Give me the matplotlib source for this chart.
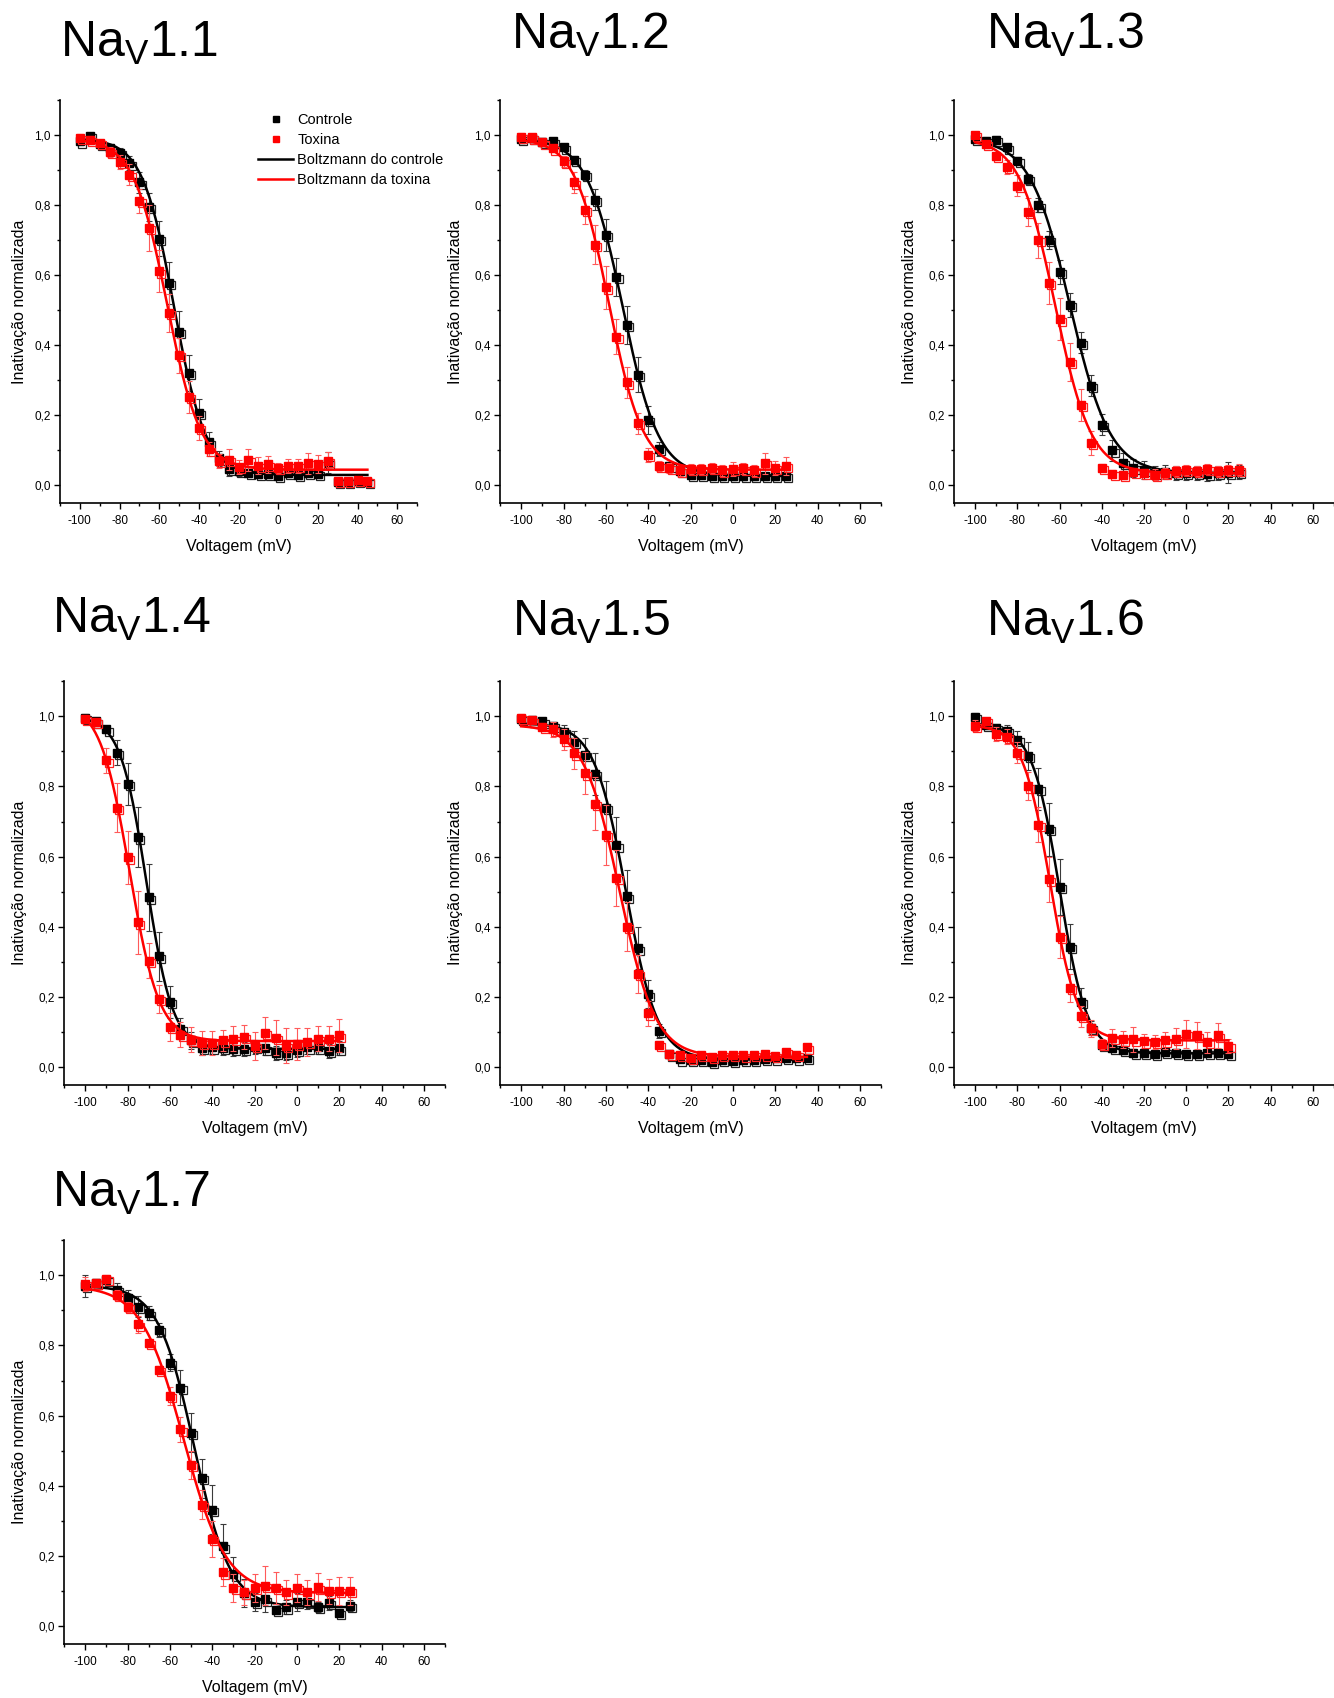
import numpy as np
import matplotlib
matplotlib.use('Agg')
import matplotlib.pyplot as plt
from matplotlib.lines import Line2D
from matplotlib.ticker import MultipleLocator, FuncFormatter
from matplotlib.transforms import ScaledTranslation

plt.rcParams['font.family'] = ['Liberation Sans', 'DejaVu Sans']
plt.rcParams['mathtext.fontset'] = 'custom'
plt.rcParams['mathtext.rm'] = 'Liberation Sans'
plt.rcParams['axes.unicode_minus'] = False

# voltage steps (mV) of each protocol
v_11 = list(range(-100, 50, 5))
v_12 = list(range(-100, 30, 5))
v_13 = list(range(-100, 30, 5))
v_14 = list(range(-100, 25, 5))
v_15 = list(range(-100, 40, 5))
v_16 = list(range(-100, 25, 5))
v_17 = list(range(-100, 30, 5))

# Nav1.1
ctrl_11 = [0.982, 0.997, 0.974, 0.964, 0.948, 0.919, 0.865, 0.796, 0.704, 0.578, 0.438, 0.321, 0.207, 0.123,
           0.077, 0.047, 0.042, 0.037, 0.032, 0.032, 0.028, 0.035, 0.030, 0.036, 0.032, 0.065, 0.011, 0.011,
           0.013, 0.011]
ctrl_11_err = [0.01, 0.01, 0.01, 0.01, 0.015, 0.02, 0.03, 0.04, 0.05, 0.06, 0.06, 0.05, 0.04, 0.03, 0.02, 0.02,
               0.015, 0.01, 0.01, 0.01, 0.01, 0.01, 0.01, 0.01, 0.01, 0.03, 0.005, 0.005, 0.005, 0.005]
tox_11 = [0.992, 0.987, 0.977, 0.951, 0.923, 0.887, 0.812, 0.735, 0.611, 0.492, 0.372, 0.253, 0.164, 0.103,
          0.069, 0.074, 0.052, 0.072, 0.057, 0.060, 0.050, 0.055, 0.055, 0.064, 0.062, 0.070, 0.013, 0.013,
          0.015, 0.013]
tox_11_err = [0.01, 0.01, 0.01, 0.015, 0.02, 0.03, 0.035, 0.065, 0.06, 0.055, 0.05, 0.045, 0.035, 0.02, 0.02,
              0.03, 0.02, 0.032, 0.025, 0.025, 0.015, 0.02, 0.02, 0.03, 0.025, 0.025, 0.005, 0.005, 0.005, 0.005]

# Nav1.2
ctrl_12 = [0.989, 0.991, 0.981, 0.982, 0.965, 0.930, 0.886, 0.816, 0.714, 0.595, 0.458, 0.316, 0.188, 0.104,
           0.055, 0.041, 0.031, 0.031, 0.028, 0.027, 0.027, 0.027, 0.027, 0.027, 0.027, 0.027]
ctrl_12_err = [0.01, 0.01, 0.01, 0.01, 0.01, 0.01, 0.015, 0.03, 0.045, 0.055, 0.055, 0.05, 0.04, 0.02, 0.01,
               0.01, 0.01, 0.01, 0.01, 0.01, 0.01, 0.01, 0.01, 0.01, 0.01, 0.01]
tox_12 = [0.995, 0.993, 0.979, 0.962, 0.925, 0.865, 0.787, 0.687, 0.565, 0.425, 0.294, 0.178, 0.087, 0.055,
          0.050, 0.043, 0.047, 0.047, 0.050, 0.043, 0.047, 0.049, 0.043, 0.064, 0.050, 0.055]
tox_12_err = [0.01, 0.01, 0.01, 0.01, 0.015, 0.03, 0.04, 0.055, 0.06, 0.05, 0.045, 0.03, 0.02, 0.015, 0.015,
              0.015, 0.015, 0.015, 0.015, 0.015, 0.02, 0.015, 0.015, 0.03, 0.02, 0.025]

# Nav1.3
ctrl_13 = [0.989, 0.984, 0.986, 0.965, 0.927, 0.875, 0.799, 0.701, 0.609, 0.515, 0.408, 0.284, 0.173, 0.100,
           0.064, 0.050, 0.044, 0.036, 0.038, 0.036, 0.036, 0.036, 0.034, 0.036, 0.036, 0.038]
ctrl_13_err = [0.01, 0.01, 0.01, 0.01, 0.01, 0.015, 0.02, 0.025, 0.035, 0.035, 0.03, 0.03, 0.03, 0.03, 0.03,
               0.025, 0.025, 0.02, 0.02, 0.02, 0.02, 0.02, 0.02, 0.02, 0.03, 0.02]
tox_13 = [1.000, 0.974, 0.941, 0.910, 0.856, 0.780, 0.700, 0.578, 0.474, 0.352, 0.230, 0.121, 0.050, 0.034,
          0.031, 0.039, 0.036, 0.031, 0.036, 0.041, 0.044, 0.041, 0.047, 0.041, 0.044, 0.045]
tox_13_err = [0.01, 0.01, 0.01, 0.02, 0.03, 0.04, 0.05, 0.06, 0.06, 0.055, 0.045, 0.035, 0.01, 0.01, 0.01,
              0.01, 0.01, 0.015, 0.015, 0.015, 0.015, 0.015, 0.015, 0.015, 0.015, 0.015]

# Nav1.4
ctrl_14 = [0.996, 0.985, 0.962, 0.896, 0.807, 0.655, 0.484, 0.316, 0.187, 0.110, 0.077, 0.055, 0.057, 0.055,
           0.052, 0.052, 0.059, 0.054, 0.042, 0.042, 0.049, 0.057, 0.057, 0.047, 0.054]
ctrl_14_err = [0.01, 0.01, 0.01, 0.035, 0.06, 0.085, 0.095, 0.07, 0.045, 0.03, 0.025, 0.02, 0.02, 0.02, 0.02,
               0.02, 0.02, 0.02, 0.02, 0.02, 0.02, 0.02, 0.02, 0.02, 0.02]
tox_14 = [0.993, 0.983, 0.874, 0.739, 0.598, 0.413, 0.304, 0.194, 0.116, 0.093, 0.079, 0.069, 0.070, 0.077,
          0.082, 0.087, 0.062, 0.098, 0.084, 0.062, 0.067, 0.072, 0.082, 0.082, 0.091]
tox_14_err = [0.01, 0.01, 0.035, 0.07, 0.075, 0.09, 0.05, 0.04, 0.04, 0.035, 0.035, 0.035, 0.035, 0.03, 0.035,
              0.035, 0.04, 0.045, 0.05, 0.05, 0.045, 0.04, 0.035, 0.035, 0.048]

# Nav1.5
ctrl_15 = [0.991, 0.988, 0.985, 0.973, 0.954, 0.927, 0.889, 0.835, 0.739, 0.632, 0.487, 0.339, 0.208, 0.103,
           0.037, 0.023, 0.021, 0.021, 0.016, 0.021, 0.018, 0.021, 0.021, 0.024, 0.026, 0.028, 0.026, 0.028]
ctrl_15_err = [0.01, 0.01, 0.01, 0.01, 0.02, 0.03, 0.05, 0.06, 0.075, 0.08, 0.075, 0.06, 0.04, 0.02, 0.005,
               0.005, 0.005, 0.005, 0.005, 0.005, 0.005, 0.005, 0.005, 0.005, 0.005, 0.005, 0.005, 0.005]
tox_15 = [0.995, 0.988, 0.970, 0.962, 0.934, 0.894, 0.837, 0.751, 0.662, 0.540, 0.401, 0.266, 0.154, 0.064,
          0.039, 0.035, 0.028, 0.035, 0.030, 0.035, 0.035, 0.034, 0.035, 0.037, 0.032, 0.045, 0.035, 0.057]
tox_15_err = [0.01, 0.01, 0.01, 0.02, 0.03, 0.045, 0.06, 0.075, 0.085, 0.08, 0.07, 0.055, 0.035, 0.01, 0.005,
              0.005, 0.005, 0.005, 0.005, 0.005, 0.005, 0.005, 0.005, 0.005, 0.005, 0.005, 0.005, 0.005]

# Nav1.6
ctrl_16 = [0.998, 0.975, 0.967, 0.959, 0.932, 0.886, 0.792, 0.678, 0.513, 0.344, 0.187, 0.113, 0.064, 0.055,
           0.049, 0.042, 0.042, 0.039, 0.045, 0.042, 0.039, 0.039, 0.042, 0.042, 0.039]
ctrl_16_err = [0.01, 0.01, 0.01, 0.015, 0.025, 0.04, 0.06, 0.075, 0.08, 0.065, 0.04, 0.02, 0.01, 0.01, 0.01,
               0.01, 0.01, 0.01, 0.01, 0.01, 0.01, 0.01, 0.01, 0.01, 0.01]
tox_16 = [0.973, 0.986, 0.950, 0.942, 0.896, 0.800, 0.691, 0.535, 0.372, 0.227, 0.146, 0.111, 0.067, 0.084,
          0.080, 0.080, 0.074, 0.072, 0.077, 0.082, 0.095, 0.091, 0.072, 0.091, 0.062]
tox_16_err = [0.015, 0.01, 0.02, 0.02, 0.03, 0.04, 0.05, 0.065, 0.06, 0.04, 0.03, 0.025, 0.015, 0.025, 0.025,
              0.035, 0.02, 0.02, 0.025, 0.03, 0.04, 0.038, 0.03, 0.035, 0.02]

# Nav1.7
ctrl_17 = [0.969, 0.977, 0.987, 0.957, 0.934, 0.910, 0.891, 0.845, 0.751, 0.679, 0.552, 0.422, 0.332, 0.228,
           0.148, 0.095, 0.069, 0.077, 0.047, 0.054, 0.069, 0.070, 0.055, 0.067, 0.039, 0.059]
ctrl_17_err = [0.03, 0.01, 0.01, 0.02, 0.025, 0.03, 0.02, 0.02, 0.025, 0.05, 0.055, 0.055, 0.07, 0.065, 0.05,
               0.04, 0.025, 0.035, 0.01, 0.02, 0.025, 0.02, 0.015, 0.02, 0.01, 0.015]
tox_17 = [0.974, 0.979, 0.989, 0.944, 0.909, 0.860, 0.806, 0.731, 0.656, 0.561, 0.460, 0.347, 0.249, 0.154,
          0.109, 0.097, 0.109, 0.116, 0.109, 0.097, 0.109, 0.097, 0.111, 0.100, 0.101, 0.101]
tox_17_err = [0.02, 0.01, 0.01, 0.015, 0.015, 0.025, 0.01, 0.01, 0.025, 0.035, 0.04, 0.04, 0.05, 0.04, 0.04,
              0.035, 0.04, 0.055, 0.045, 0.035, 0.04, 0.035, 0.04, 0.035, 0.04, 0.04]

# Boltzmann fit parameters: (top, bottom, V1/2 in mV, slope k in mV)
fit_11 = [(0.99, 0.030, -52.5, 8.0), (0.99, 0.045, -56.0, 8.5)]
fit_12 = [(0.99, 0.027, -52.0, 8.5), (0.99, 0.045, -58.5, 8.0)]
fit_13 = [(0.99, 0.035, -55.0, 9.5), (0.99, 0.035, -62.0, 8.5)]
fit_14 = [(1.00, 0.053, -71.0, 6.2), (1.04, 0.075, -79.0, 7.0)]
fit_15 = [(0.98, 0.022, -50.5, 7.5), (0.975, 0.030, -53.5, 8.5)]
fit_16 = [(0.975, 0.040, -60.0, 6.5), (0.975, 0.077, -64.5, 6.5)]
fit_17 = [(0.97, 0.055, -48.5, 8.5), (0.97, 0.095, -53.5, 10.0)]

titles = ['1.1', '1.2', '1.3', '1.4', '1.5', '1.6', '1.7']

W, H = 1334, 1698
fig = plt.figure(figsize=(W / 100, H / 100), dpi=100)


def boltzmann(v, p):
    top, bottom, vhalf, k = p
    return bottom + (top - bottom) / (1 + np.exp((v - vhalf) / k))


def comma(val, pos):
    return f'{val:.1f}'.replace('.', ',')


def draw_panel(rect, v, ctrl, ctrl_err, tox, tox_err, fits, ypad=8):
    left, top, right, bottom = rect
    ax = fig.add_axes([left / W, 1 - bottom / H, (right - left) / W, (bottom - top) / H])
    shadow = ax.transData + ScaledTranslation(0.022, -0.022, fig.dpi_scale_trans)
    vv = np.linspace(v[0], v[-1], 300)

    ax.errorbar(v, ctrl, yerr=ctrl_err, fmt='none', ecolor='#3a3a3a', elinewidth=0.8,
                capsize=2.5, capthick=0.8, zorder=2)
    ax.plot(v, ctrl, 's', mfc='none', mec='#222222', mew=0.9, ms=6, transform=shadow, zorder=3)
    ax.plot(v, ctrl, 's', color='black', ms=6, zorder=3)
    ax.plot(vv, boltzmann(vv, fits[0]), color='black', lw=1.8, zorder=4)

    ax.errorbar(v, tox, yerr=tox_err, fmt='none', ecolor='#ff5a5a', elinewidth=0.8,
                capsize=2.5, capthick=0.8, zorder=5)
    ax.plot(v, tox, 's', mfc='none', mec='#ff2020', mew=0.9, ms=6, transform=shadow, zorder=6)
    ax.plot(v, tox, 's', color='#ff0000', ms=6, zorder=6)
    ax.plot(vv, boltzmann(vv, fits[1]), color='#ff0000', lw=1.8, zorder=7)

    ax.set_xlim(-110, 70)
    ax.set_ylim(-0.05, 1.1)
    ax.xaxis.set_major_locator(MultipleLocator(20))
    ax.xaxis.set_minor_locator(MultipleLocator(10))
    ax.yaxis.set_major_locator(MultipleLocator(0.2))
    ax.yaxis.set_minor_locator(MultipleLocator(0.1))
    ax.yaxis.set_major_formatter(FuncFormatter(comma))
    for s in ['top', 'right']:
        ax.spines[s].set_visible(False)
    for s in ['left', 'bottom']:
        ax.spines[s].set_linewidth(1.2)
    ax.tick_params(which='major', direction='out', length=4.5, width=1, labelsize=8.5, pad=2)
    ax.tick_params(axis='x', which='major', pad=4)
    ax.tick_params(which='minor', direction='out', length=2.5, width=1)
    ax.set_xlabel('Voltagem (mV)', fontsize=11.5, labelpad=9)
    ax.set_ylabel('Inativação normalizada', fontsize=11.5, labelpad=ypad)
    return ax


ax1 = draw_panel((60, 100, 417, 503), v_11, ctrl_11, ctrl_11_err, tox_11, tox_11_err, fit_11, ypad=5.5)
draw_panel((500, 100, 881, 503), v_12, ctrl_12, ctrl_12_err, tox_12, tox_12_err, fit_12)
draw_panel((954, 100, 1334, 503), v_13, ctrl_13, ctrl_13_err, tox_13, tox_13_err, fit_13)
draw_panel((64, 681, 445, 1085), v_14, ctrl_14, ctrl_14_err, tox_14, tox_14_err, fit_14)
draw_panel((500, 681, 881, 1085), v_15, ctrl_15, ctrl_15_err, tox_15, tox_15_err, fit_15)
draw_panel((954, 681, 1334, 1085), v_16, ctrl_16, ctrl_16_err, tox_16, tox_16_err, fit_16)
draw_panel((64, 1240, 445, 1644), v_17, ctrl_17, ctrl_17_err, tox_17, tox_17_err, fit_17)

# big channel names above each panel
title_pos = [(60, 57), (511, 49), (986, 49), (52, 633), (512, 636), (986, 636), (52, 1207)]
for name, (x, y) in zip(titles, title_pos):
    fig.text(x / W, 1 - y / H, r'Na$_\mathregular{V}$' + name, fontsize=36, ha='left', va='baseline')

handles = [
    Line2D([], [], marker='s', color='black', ls='none', ms=4.5),
    Line2D([], [], marker='s', color='#ff0000', ls='none', ms=4.5),
    Line2D([], [], color='black', lw=1.8),
    Line2D([], [], color='#ff0000', lw=1.8),
]
labels = ['Controle', 'Toxina', 'Boltzmann do controle', 'Boltzmann da toxina']
ax1.legend(handles, labels, loc='upper left', bbox_to_anchor=(258 / W, 1 - 113 / H),
           bbox_transform=fig.transFigure, frameon=False, fontsize=10.5, borderpad=0,
           borderaxespad=0, labelspacing=0.42, handlelength=2.4, handletextpad=0.3)

fig.savefig('out.png', dpi=100)
